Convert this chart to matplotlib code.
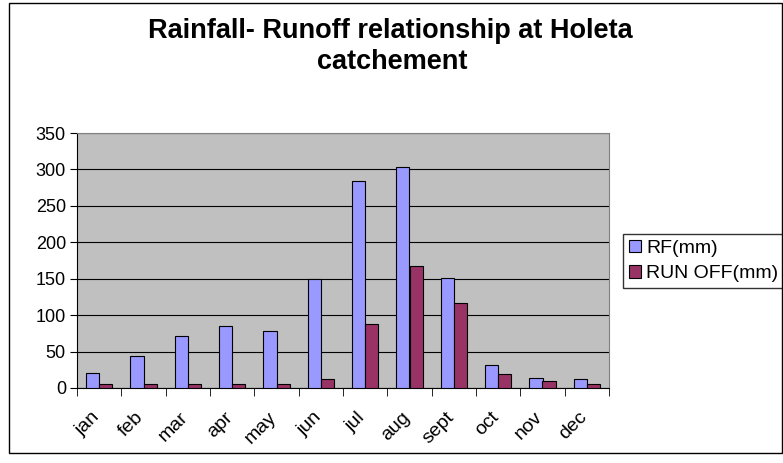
import numpy as np
import matplotlib.pyplot as plt
import matplotlib.transforms as mtransforms
from matplotlib.patches import Rectangle

months = ["jan", "feb", "mar", "apr", "may", "jun", "jul", "aug", "sept", "oct", "nov", "dec"]
rf = [20, 44, 71, 85, 78, 149, 284, 303, 151, 32, 14, 12]
runoff = [5, 5, 5, 6, 6, 12, 88, 168, 116, 19, 10, 5]

plt.rcParams['font.family'] = ['Liberation Sans', 'DejaVu Sans']

fig = plt.figure(figsize=(7.83, 4.63), dpi=100)
fig.patches.append(Rectangle((9 / 783, 10 / 463), 773 / 783, 450 / 463, transform=fig.transFigure,
                             fill=False, edgecolor="black", linewidth=1))
ax = fig.add_axes([77 / 783, 75 / 463, 532 / 783, 255 / 463])
ax.set_facecolor("#C0C0C0")

x = np.arange(len(months))
w = 0.3
ax.bar(x - w / 2, rf, w, color="#9999FF", edgecolor="black", linewidth=0.8, label="RF(mm)", zorder=3)
ax.bar(x + w / 2, runoff, w, color="#993366", edgecolor="black", linewidth=0.8, label="RUN OFF(mm)", zorder=3)

ax.set_xlim(-0.5, len(months) - 0.5)
ax.set_ylim(0, 350)
ax.set_yticks(range(0, 351, 50))
ax.yaxis.grid(True, color="black", linewidth=0.8, zorder=1)
ax.set_axisbelow(True)

ax.set_xticks(x)
ax.set_xticklabels(months, rotation=45, fontsize=14, ha="right", rotation_mode="anchor")
ax.set_xticks(np.arange(-0.5, len(months)), minor=True)
ax.tick_params(axis="x", which="major", length=0, pad=15)
ax.tick_params(axis="x", which="minor", length=6, direction="out")
ax.tick_params(axis="y", labelsize=13, length=5, direction="out", pad=3)
shift = mtransforms.ScaledTranslation(-6 / 72, 0, fig.dpi_scale_trans)
for lbl in ax.get_xticklabels():
    lbl.set_transform(lbl.get_transform() + shift)
for s in ["top", "right"]:
    ax.spines[s].set_color("gray")
for s in ["left", "bottom"]:
    ax.spines[s].set_color("black")

fig.text(390 / 783, 1 - 31 / 463, "Rainfall- Runoff relationship at Holeta", ha="center", va="center",
         fontsize=19.5, fontweight="bold")
fig.text(392 / 783, 1 - 62 / 463, "catchement", ha="center", va="center", fontsize=19.5, fontweight="bold")

ax.legend(loc="center left", bbox_to_anchor=(623 / 783, 1 - 261 / 463), bbox_transform=fig.transFigure,
          frameon=True, fancybox=False, edgecolor="black", fontsize=14, handlelength=0.6,
          handleheight=0.6, handletextpad=0.3, borderpad=0.3, labelspacing=0.45, borderaxespad=0)

fig.savefig("out.png", dpi=100)
